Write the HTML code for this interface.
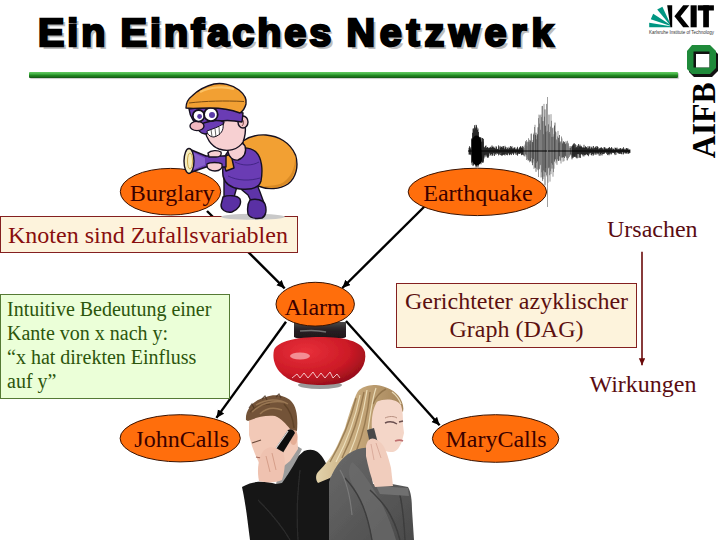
<!DOCTYPE html>
<html><head><meta charset="utf-8">
<style>
html,body{margin:0;padding:0;background:#fff;}
body{width:720px;height:540px;position:relative;overflow:hidden;font-family:"Liberation Serif",serif;}
.a{position:absolute;white-space:nowrap;}
#title{left:38px;top:10px;font-family:"Liberation Sans",sans-serif;font-weight:bold;font-size:39.5px;color:#000;letter-spacing:3px;word-spacing:-1.8px;-webkit-text-stroke:2.5px #000;text-shadow:3px 3px 0 #bdbdbd;}
.box{position:absolute;box-sizing:border-box;}
.red{background:#fdf3dc;border:1.5px solid #842020;}
.grn{background:#ebffd8;border:1.5px solid #557a35;}
.rt{color:#5c1010;font-size:24px;line-height:1;}
.gt{color:#2c560c;font-size:20px;line-height:23.87px;}
svg text{font-family:"Liberation Serif",serif;}
</style></head>
<body>
<div id="title" class="a">Ein Einfaches <span style="letter-spacing:4.8px">Netzwerk</span></div>
<div class="a" style="left:29px;top:71.5px;width:649px;height:6px;border-radius:1px;background:linear-gradient(#62c862,#48b448 30%,#218a21 55%,#1a6e1a 80%,#125012);box-shadow:1px 1px 1px #c8c8c8;"></div>

<!-- KIT logo -->
<svg class="a" style="left:0;top:0" width="720" height="170" viewBox="0 0 720 170">
  <g fill="#009682">
    <polygon points="670.5,27.3 649.2,27.3 649.2,22.8 670.5,26.2"/>
    <polygon points="670,25.8 650.8,19.2 653.2,13.8 670.6,24.9"/>
    <polygon points="669.6,24.6 657.2,9.4 662.4,6.8 670.4,24.1"/>
  </g>
  <g fill="#000">
    <polygon points="667.2,5.3 672.2,5.3 672.2,27.3 670.4,27.3"/>
    <polygon points="683.2,5.3 689.4,5.3 680.6,16.3 689.4,27.3 683.2,27.3 674.4,16.3"/>
    <rect x="690.6" y="5.3" width="6.1" height="22"/>
    <rect x="697.8" y="5.3" width="16.1" height="5.2"/>
    <rect x="703.2" y="5.3" width="5.7" height="22"/>
  </g>
  <text x="649" y="33.8" font-size="4.6" fill="#333" textLength="65" lengthAdjust="spacingAndGlyphs" style="font-family:'Liberation Sans',sans-serif">Karlsruhe Institute of Technology</text>
  <!-- AIFB logo -->
  <polygon points="694,48 712,48 718,54 718,71 712,77 694,77 689,72 689,54" fill="#111"/>
  <polygon points="692,45 710,45 716,51 716,68 710,74 692,74 687,69 687,51" fill="#1f8a3a"/>
  <rect x="693.5" y="51.5" width="16" height="16" fill="#111"/>
  <rect x="696" y="54" width="13.3" height="13.4" fill="#fff"/>
  <text transform="translate(714.5,158.3) rotate(-90)" font-size="33" font-weight="bold" fill="#000" textLength="76" lengthAdjust="spacingAndGlyphs">AIFB</text>
</svg>

<!-- arrows -->
<svg class="a" style="left:0;top:0" width="720" height="540" viewBox="0 0 720 540">
  <defs>
    <marker id="ah" markerWidth="10" markerHeight="10" refX="8" refY="4" orient="auto" markerUnits="userSpaceOnUse">
      <path d="M0,0.2 L8,4 L0,7.8 z" fill="#000"/>
    </marker>
    <marker id="ahr" markerWidth="10" markerHeight="10" refX="7" refY="3.2" orient="auto" markerUnits="userSpaceOnUse">
      <path d="M0,0 L7,3.2 L0,6.4 z" fill="#6a0a0a"/>
    </marker>
  </defs>
  <g stroke="#000" stroke-width="2.4" fill="none">
    <line x1="207" y1="211" x2="284.7" y2="288.3" marker-end="url(#ah)"/>
    <line x1="425" y1="206" x2="342.3" y2="288" marker-end="url(#ah)"/>
    <line x1="286" y1="321.8" x2="216.4" y2="417.9" marker-end="url(#ah)"/>
    <line x1="346" y1="321" x2="439.6" y2="425.3" marker-end="url(#ah)"/>
  </g>
  <line x1="642" y1="251.7" x2="642" y2="365.3" stroke="#6a0a0a" stroke-width="1.6" marker-end="url(#ahr)"/>
  <g fill="none"><path d="M469.0 147.8V154.6M469.5 146.2V154.3M470.0 147.6V154.7M470.5 148.6V154.4M471.0 147.2V155.3M471.5 139.2V162.7M472.0 138.0V164.8M472.5 132.8V162.3M473.0 128.6V166.1M473.5 128.4V165.2M474.0 130.2V163.1M474.5 125.2V163.6M475.0 127.2V164.6M475.5 128.3V165.7M476.0 124.8V167.3M476.5 125.3V166.4M477.0 127.4V166.3M477.5 129.9V164.5M478.0 128.5V167.1M478.5 132.0V165.6M479.0 136.8V163.3M479.5 138.2V162.4M480.0 137.0V163.3M480.5 137.5V163.0M481.0 137.5V164.3M481.5 141.7V161.9M482.0 138.2V162.6M482.5 138.0V162.3M483.0 141.6V163.0M483.5 138.8V161.7M484.0 146.7V158.5M484.5 147.3V155.4M485.0 148.2V157.2M485.5 146.0V155.5M486.0 145.4V153.9M486.5 147.8V155.6M487.0 147.7V157.2M487.5 147.0V157.8M488.0 147.4V156.4M488.5 148.2V157.6M489.0 148.1V155.8M489.5 147.9V153.3M490.0 147.2V153.6M490.5 147.4V154.9M491.0 146.6V155.8M491.5 148.0V153.9M492.0 145.4V154.3M492.5 147.0V155.7M493.0 146.4V155.4M493.5 147.6V153.3M494.0 146.8V153.2M494.5 148.1V156.0M495.0 148.1V153.5M495.5 148.8V153.8M496.0 146.3V154.9M496.5 146.7V153.2M497.0 148.9V153.6M497.5 149.1V153.4M498.0 148.8V153.9M498.5 145.4V155.4M499.0 147.2V153.3M499.5 149.6V154.6M500.0 145.9V152.9M500.5 147.7V155.1M501.0 146.6V152.7M501.5 147.0V155.5M502.0 146.8V155.5M502.5 147.8V155.4M503.0 146.0V154.4M503.5 146.2V154.8M504.0 148.1V154.6M504.5 149.1V154.7M505.0 145.8V155.6M505.5 147.4V154.2M506.0 147.0V152.8M506.5 149.1V154.8M507.0 148.7V154.7M507.5 147.6V155.3M508.0 149.5V153.2M508.5 148.6V153.3M509.0 146.8V154.4M509.5 148.0V155.2M510.0 148.5V154.5M510.5 146.0V154.2M511.0 148.4V153.1M511.5 146.9V155.1M512.0 146.2V153.6M512.5 148.5V153.0M513.0 148.5V154.0M513.5 148.5V155.0M514.0 147.5V153.2M514.5 147.7V152.4M515.0 147.4V153.7M515.5 149.2V153.2M516.0 149.4V154.9M516.5 149.2V152.5M517.0 147.9V154.6M517.5 146.8V155.7M518.0 148.7V154.2M518.5 149.6V153.5M519.0 148.7V153.6M519.5 147.6V153.9M520.0 147.0V153.9M520.5 146.2V153.1M521.0 146.6V153.3M521.5 147.7V155.2M522.0 147.9V154.9M522.5 146.1V154.3M523.0 148.7V154.9M572.0 146.3V159.3M572.5 145.5V157.8M573.0 144.6V155.7M573.5 143.6V157.6M574.0 145.4V156.6M574.5 143.3V157.0M575.0 148.3V156.0M575.5 144.3V157.3M576.0 147.4V154.6M576.5 147.2V157.7M577.0 145.2V158.5M577.5 146.2V154.1M578.0 148.2V157.9M578.5 144.0V154.2M579.0 145.6V153.7M579.5 146.5V157.7M580.0 144.6V154.8M580.5 146.5V157.9M581.0 145.8V153.8M581.5 146.4V154.0M582.0 147.1V154.9M582.5 148.0V154.6M583.0 147.1V156.3M583.5 147.7V154.5M584.0 144.8V156.4M584.5 148.0V155.1M585.0 147.1V154.5M585.5 146.2V155.2M586.0 147.1V153.8M586.5 147.2V154.0M587.0 147.8V155.1M587.5 148.6V155.2M588.0 146.1V154.7M588.5 147.7V156.2M589.0 149.0V152.9M589.5 146.4V153.6M590.0 146.5V154.7M590.5 148.8V153.0M591.0 148.3V152.7M591.5 147.3V155.0M592.0 146.5V155.7M592.5 148.3V153.9M593.0 148.6V154.1M593.5 146.0V155.5M594.0 149.2V153.8M594.5 147.6V152.8M595.0 148.0V154.8M595.5 147.1V153.4M596.0 146.2V154.6M596.5 148.1V152.9M597.0 146.1V154.4M597.5 146.6V153.3M598.0 147.0V153.5M598.5 149.2V153.6M599.0 148.3V155.5M599.5 148.4V152.7M600.0 148.7V155.9M600.5 147.9V154.1M601.0 147.5V154.7M601.5 147.4V153.1M602.0 148.4V155.5M602.5 148.4V154.2M603.0 148.6V152.4M603.5 149.5V154.1M604.0 147.2V153.7M604.5 147.4V153.6M605.0 147.4V152.5M605.5 148.8V152.5M606.0 148.3V152.7M606.5 149.0V153.8M607.0 148.3V152.3M607.5 149.1V155.1M608.0 148.4V153.5M608.5 147.8V154.4M609.0 148.2V155.3M609.5 147.0V153.7M610.0 148.4V154.4M610.5 148.4V153.4M611.0 148.5V152.7M611.5 147.1V154.4M612.0 147.8V153.1M612.5 149.5V152.6M613.0 148.6V153.1M613.5 148.8V152.9M614.0 149.3V152.9M614.5 149.8V153.9M615.0 147.5V155.1M615.5 148.0V152.7M616.0 148.1V154.8M616.5 148.7V152.2M617.0 147.5V152.3M617.5 149.4V152.7M618.0 148.6V153.3M618.5 149.1V153.4M619.0 150.1V153.4M619.5 148.9V153.9M620.0 148.1V153.1M620.5 148.2V153.8M621.0 148.5V152.6M621.5 149.5V154.1M622.0 148.9V154.3M622.5 148.5V152.1M623.0 148.9V152.4M623.5 147.2V154.4M624.0 148.9V153.5M624.5 149.7V152.6M625.0 148.6V152.4M625.5 149.7V153.1M626.0 148.7V154.0M626.5 148.0V153.0M627.0 148.3V153.3M627.5 148.8V152.2M628.0 148.3V153.9M628.5 149.7V153.5M629.0 149.6V153.5M629.5 149.7V153.0M630.0 149.5V152.9" stroke="#111" stroke-width="0.75"/><path d="M524.0 145.8V156.2M524.5 148.2V155.8M525.0 144.5V156.6M525.5 141.1V154.1M526.5 140.0V160.0M527.0 145.9V157.2M527.5 141.6V159.3M528.0 142.5V160.7M528.5 138.2V160.2M529.5 139.8V162.3M530.0 144.4V161.0M531.0 133.8V161.5M531.5 133.6V157.9M532.0 141.8V162.8M533.0 139.9V162.5M534.0 132.7V168.9M534.5 127.0V167.7M535.0 124.8V161.0M536.5 139.3V162.8M537.0 135.6V169.0M538.5 118.1V177.0M539.0 114.6V168.2M539.5 123.6V169.2M540.0 115.3V165.3M540.5 129.8V164.8M541.0 114.5V177.5M541.5 117.1V172.3M542.0 106.1V177.2M542.5 105.9V181.0M543.5 134.2V170.5M544.0 103.9V176.6M544.5 116.7V171.7M546.0 131.7V168.1M546.5 103.9V175.2M547.0 131.8V176.5M548.0 133.1V182.7M548.5 124.3V168.3M549.5 132.0V175.2M550.0 134.1V181.6M550.5 126.6V171.3M551.0 114.2V174.2M551.5 120.8V163.2M552.5 128.2V164.7M553.0 127.5V176.7M553.5 136.6V172.1M554.0 134.2V168.7M555.5 131.4V159.2M556.0 132.3V163.4M556.5 139.4V161.5M557.0 140.3V164.9M557.5 136.4V159.1M558.0 130.9V160.4M559.0 142.7V160.3M560.0 141.3V160.7M560.5 142.3V160.4M561.0 141.4V163.5M561.5 136.5V157.4M562.0 138.5V157.8M563.0 141.9V161.7M564.0 142.5V161.1M565.0 142.7V155.3M566.0 141.1V156.6M566.5 142.6V157.8M567.0 144.3V160.4M567.5 140.8V160.3M568.0 142.7V158.6M568.5 143.5V158.1M569.0 146.3V154.9M569.5 148.1V156.9M570.0 146.2V155.8M571.5 147.0V157.5" stroke="#6a6a6a" stroke-width="0.7"/><path d="M523.5 147.1V155.2M526.0 142.3V155.2M529.0 141.7V160.3M530.5 140.5V161.3M532.5 142.1V165.2M533.5 134.4V159.2M535.5 134.9V167.8M536.0 132.7V171.8M537.5 134.2V161.4M538.0 127.3V170.2M543.0 121.1V179.2M545.0 109.4V185.4M545.5 125.7V172.3M547.5 130.8V173.7M549.0 114.6V167.5M552.0 136.9V168.6M554.5 125.5V161.6M555.0 122.6V159.5M558.5 137.8V161.0M559.5 135.0V156.3M562.5 143.4V157.4M563.5 141.2V157.1M564.5 141.9V158.0M565.5 144.1V156.3M570.5 147.9V154.3M571.0 146.1V155.1" stroke="#333" stroke-width="0.7"/><path d="M468 151H630" stroke="#000" stroke-width="1"/><path d="M547.5 97V207" stroke="#888" stroke-width="0.8"/><path d="M472,140 C474,134 479,134 481,140 L482,160 C480,167 474,167 472,160 Z" fill="#000"/></g>
  <defs>
  <linearGradient id="topG" x1="0" y1="0" x2="0" y2="1">
    <stop offset="0" stop-color="#4a4a4a"/><stop offset="0.4" stop-color="#2a2226"/><stop offset="1" stop-color="#1c1416"/>
  </linearGradient>
  <radialGradient id="domeG" cx="0.35" cy="0.3" r="0.8">
    <stop offset="0" stop-color="#e8303a"/><stop offset="0.6" stop-color="#cc1a26"/><stop offset="1" stop-color="#8a0c18"/>
  </radialGradient>
  <filter id="soft2" x="-5%" y="-5%" width="110%" height="110%"><feGaussianBlur stdDeviation="0.5"/></filter>
</defs>
<g filter="url(#soft2)">
  <ellipse cx="320" cy="385" rx="22" ry="4" fill="#9a9a9a"/>
  <path d="M294,322 L346,322 L346,337 C340,341 300,341 294,337 Z" fill="url(#topG)"/>
  <path d="M300,331 C310,330 318,330 326,332" stroke="#707070" stroke-width="1.5" fill="none"/>
  <path d="M274,350 C278,341 296,337 320,337 C344,337 362,341 365,352 C367,364 360,376 344,382 C334,386 308,386 296,382 C280,377 271,364 274,350 Z" fill="url(#domeG)"/>
  <ellipse cx="300" cy="356" rx="10" ry="3.5" fill="#f6a0a4" opacity="0.85"/>
  <path d="M292,378 L297,374 L300,378 L304,373 L308,378 L313,372 L317,378 L321,373 L325,378 L330,372 L333,378 L337,374 L340,378" stroke="#f6d6d6" stroke-width="0.9" fill="none"/>
</g>

  <defs>
  <filter id="soft" x="-5%" y="-5%" width="110%" height="110%"><feGaussianBlur stdDeviation="0.7"/></filter>
  <linearGradient id="hairW" x1="0" y1="0" x2="1" y2="0">
    <stop offset="0" stop-color="#e2d2aa"/><stop offset="0.5" stop-color="#c4a678"/><stop offset="1" stop-color="#a4845a"/>
  </linearGradient>
  <linearGradient id="jacketW" x1="0" y1="0" x2="1" y2="1">
    <stop offset="0" stop-color="#6a6a6a"/><stop offset="1" stop-color="#4a4a4a"/>
  </linearGradient>
</defs>
<g filter="url(#soft)">
  <!-- man jacket -->
  <path d="M242,487 C250,482 262,480 276,484 L285,476 L294,460 L304,451 C312,448 318,450 323,458 C328,466 331,474 331,482 L332,540 L250,540 C248,525 246,505 242,487 Z" fill="#151515"/>
  <path d="M258,500 C270,512 282,526 290,540 M300,470 C298,490 296,510 298,540" fill="none" stroke="#2c2c2c" stroke-width="1.3"/>
  <!-- man collar -->
  <path d="M284,452 L297,446 L302,449 C297,460 290,472 282,483 L276,484 Z" fill="#9c9c9c"/>
  <!-- man face -->
  <path d="M249,421 C256,411 272,408 285,413 L292,428 L297,432 L298,449 L290,461 L279,470 L266,470 L259,463 L255,454 L252,446 L249,435 Z" fill="#f2c9b7"/>
  <path d="M252,443 L261,440" stroke="#6a4a3a" stroke-width="1.3" fill="none"/>
  <path d="M256,457 C259,458 262,458 264,457" stroke="#a86a5a" stroke-width="1.2" fill="none"/>
  <!-- man ear -->
  <ellipse cx="293.5" cy="437" rx="4" ry="8" fill="#e5ae96"/>
  <!-- man hair -->
  <path d="M246,420 C245,410 253,400 266,397 C274,394 285,395 291,401 C297,407 298,418 297,431 L290,429 C286,424 281,418 275,416 C266,415 257,417 248,421 Z" fill="#735337"/>
  <path d="M284,404 C290,410 293,418 294,428 M250,412 C256,406 262,404 270,404" fill="none" stroke="#5a3e26" stroke-width="1.5" opacity="0.8"/>
  <path d="M252,412 C260,404 272,400 284,402 M256,405 C266,399 278,398 288,404 M260,414 C266,408 274,407 282,410" fill="none" stroke="#a3805a" stroke-width="1.4" opacity="0.8"/>
  <path d="M249,408 L252,404 L254,408 M262,399 L265,396 L267,400 M276,397 L279,394 L281,398" fill="none" stroke="#4a3220" stroke-width="1.2" opacity="0.8"/>
  <!-- man phone -->
  <path d="M273,452 L288,430 C291,428 294,430 295,433 L281,456 Z" fill="#111"/>
  <path d="M274,451 L288,431" stroke="#d8d8d8" stroke-width="1.3"/>
  <!-- man hand -->
  <path d="M261,455 C264,448 270,446 276,448 L283,452 C286,460 285,470 282,480 C276,483 266,483 259,481 C257,472 258,462 261,455 Z" fill="#efc2b0"/>
  <path d="M266,456 L270,472 M272,453 L276,470" stroke="#d29a84" stroke-width="0.9" fill="none"/>
  <!-- woman hair (behind) -->
  <path d="M359,390 C364,386 370,385 376,385 C386,386 396,391 400,398 C403,403 404,408 403,412 L392,402 C386,400 380,401 377,402 C374,412 372,425 371,437 L368,450 C362,452 352,455 345,459 C338,465 334,472 330,478 L318,483 C315,479 316,474 318,472 C326,464 332,456 336,448 C340,440 343,432 345,428 C348,418 351,408 353,403 C355,397 357,392 359,390 Z" fill="url(#hairW)"/>
  <path d="M356,398 C351,418 344,438 330,462 M364,392 C360,412 354,434 342,458 M370,392 C368,412 364,432 356,452 M386,389 C380,392 376,396 373,404" fill="none" stroke="#8a6c44" stroke-width="1.4" opacity="0.75"/>
  <path d="M360,395 C356,415 349,437 336,462 M367,390 C364,410 359,432 349,455 M376,388 C372,400 370,415 368,430 M392,392 C396,395 399,399 401,404" fill="none" stroke="#f2e6c4" stroke-width="1.2" opacity="0.85"/>
  <!-- woman face -->
  <path d="M377,402 C385,398 396,399 401,405 C403,411 403,418 403,425 L404,433 L402,441 C400,447 397,451 393,452 C386,452 381,450 379,448 C375,443 373,436 372,430 C371,418 373,408 377,402 Z" fill="#f4d6c8"/>
  <path d="M385,423 C389,421 394,422 397,424 M399,422 L403,421" stroke="#6a5050" stroke-width="1.4" fill="none"/>
  <path d="M385,418 C389,416 394,416 397,418" stroke="#b89080" stroke-width="1" fill="none"/>
  <path d="M395,441 C398,440 401,440 403,441" stroke="#c07070" stroke-width="1.8" fill="none"/>
  <!-- woman jacket -->
  <path d="M329,482 C333,470 340,460 348,454 C356,449 363,447 368,448 L373,484 L392,484 L408,487 C411,492 412,500 412,510 L414,540 L329,540 Z" fill="url(#jacketW)"/>
  <path d="M352,462 C362,470 372,486 380,500 C386,512 392,526 396,540 L372,540 C368,520 362,500 352,484 C348,476 348,468 352,462 Z" fill="#6c6c6c" opacity="0.7"/>
  <path d="M345,478 C356,490 366,505 372,540 M370,490 C380,500 392,510 400,540 M398,488 C402,500 404,520 405,540" fill="none" stroke="#3c3c3c" stroke-width="1.4"/>
  <path d="M376,486 L408,488 L409,496 L380,494 Z" fill="#707070"/>
  <path d="M340,470 C346,480 350,495 352,515" fill="none" stroke="#7a7a7a" stroke-width="1.2"/>
  <!-- woman phone + hand -->
  <path d="M367,430 L374,428 L380,451 L372,453 Z" fill="#4a4a4a"/>
  <path d="M366,446 C367,440 371,437 375,439 L380,442 C385,446 388,456 391,468 L393,486 L375,487 C371,478 368,466 366,456 Z" fill="#f1cdbd"/>
  <path d="M376,443 L381,458 M371,444 L374,460" stroke="#d8a898" stroke-width="0.9" fill="none"/>

</g>

</svg>

<div class="box red" style="left:0;top:216px;width:298px;height:37px;"></div>
<div class="a rt" style="left:8px;top:222.8px;color:#880e0e;">Knoten sind Zufallsvariablen</div>

<div class="box grn" style="left:0;top:294px;width:229.5px;height:105px;"></div>
<div class="a gt" style="left:7px;top:298.3px;">Intuitive Bedeutung einer<br>Kante von x nach y:<br>“x hat direkten Einfluss<br>auf y”</div>

<div class="box red" style="left:396px;top:282.5px;width:241px;height:65px;"></div>
<div class="a rt" style="left:396px;width:241px;top:286.5px;line-height:28.5px;text-align:center;">Gerichteter azyklischer<br>Graph (DAG)</div>

<div class="a rt" style="left:607px;top:216.9px;color:#5a0c12;">Ursachen</div>
<div class="a rt" style="left:589.5px;top:372.2px;color:#5a0c12;">Wirkungen</div>

<!-- ellipses -->
<svg class="a" style="left:0;top:0" width="720" height="540" viewBox="0 0 720 540">
  <g fill="#ff6e0c" stroke="#3a1200" stroke-width="1">
    <ellipse cx="170.5" cy="191.7" rx="50.2" ry="23.3"/>
    <ellipse cx="477.4" cy="191.9" rx="69.2" ry="23.7"/>
    <ellipse cx="315.2" cy="304.2" rx="39.2" ry="21.9"/>
    <ellipse cx="180.2" cy="438.3" rx="60.1" ry="23.6"/>
    <ellipse cx="495.6" cy="438.5" rx="63.2" ry="23.8"/>
  </g>
  <g fill="#3a0000" font-size="24">
    <text x="129.7" y="200.8">Burglary</text>
    <text x="423.3" y="201.1">Earthquake</text>
    <text x="284.4" y="314.9">Alarm</text>
    <text x="134.3" y="446.7">JohnCalls</text>
    <text x="445.4" y="446.7">MaryCalls</text>
  </g>
  <g stroke="#161020" stroke-width="1.4" stroke-linejoin="round">
  <!-- shadow -->
  <ellipse cx="253" cy="216.8" rx="32" ry="3" fill="#c9c9c9" stroke="none"/>
  <!-- sack -->
  <path d="M243,141 C250,136 258,134.5 266,135 C278,136 290,142 295.5,155 C299,166 296,178 288,184 C280,189.5 268,190 258,186 C250,182 244,172 241,162 Z" fill="#f2a033"/>
  <path d="M262,186 C274,190 286,187 292,178 C296,170 297,162 295,155 C296,168 290,180 280,184 C272,186 266,186 262,186 Z" fill="#d98a25" stroke="none"/>
  <!-- legs -->
  <path d="M224,178 L238,182 L236,190 L233,201 L224,201 L224,190 Z" fill="#5e34a8"/>
  <path d="M240,182 L256,182 L260,192 L264,203 L253,205 L248,195 L242,190 Z" fill="#5e34a8"/>
  <!-- feet -->
  <path d="M223,197 C228,195 237,195 240,199 C242,204 238,210 232,212 C226,213 221,210 221,205 Z" fill="#5a30a4"/>
  <path d="M250,200 C256,198 263,200 265,204 C267,210 266,216 262,218 C256,219 250,218 248,214 C247,208 248,203 250,200 Z" fill="#5a30a4"/>
  <!-- torso -->
  <path d="M229,150 C238,146 250,147 256,152 C262,158 263,170 261,181 C259,188 250,190 240,189 C231,188 225,184 223,176 C222,166 224,156 229,150 Z" fill="#6a3cb4"/>
  <path d="M235,162 C242,166 252,166 259,162 M228,176 C238,181 250,181 260,178" fill="none" stroke="#3e2280" stroke-width="0.9"/>
  <!-- orange cuff -->
  <path d="M222,157 L231,154 L234,168 L226,171 Z" fill="#f0a030"/>
  <!-- hand on sack / neck -->
  <path d="M229,143 C234,140 242,141 245,146 C247,152 244,158 238,160 C233,161 229,157 228,152 Z" fill="#f7d0d2"/>
  <!-- flashlight -->
  <path d="M189,149 L206,156 L226,156 L226,167 L206,167 L189,173 Z" fill="#6a3cb4"/>
  <path d="M192,152 L205,158 L205,165 L192,170 Z" fill="#8760cc" stroke="none"/>
  <ellipse cx="189" cy="161" rx="5" ry="12.5" fill="#f6edbc"/>
  <ellipse cx="190" cy="161" rx="2.5" ry="8" fill="none" stroke="#c8a040" stroke-width="0.9"/>
  <!-- hands on flashlight -->
  <path d="M208,153 C211,150 218,150 221,152 C222,155 220,157 216,157 L209,157 Z" fill="#f7d0d2"/>
  <path d="M207,164 C210,162 219,162 222,164 C223,168 220,171 215,171 C211,171 207,169 207,166 Z" fill="#f7d0d2"/>
  <!-- neck/face -->
  <path d="M207,118 L240,112 C246,118 247,132 243,142 C238,150 228,152 219,149 C211,146 206,138 205,130 Z" fill="#f7d0d2"/>
  <!-- ear -->
  <ellipse cx="243" cy="122" rx="5" ry="6" fill="#f3c4c8"/>
  <path d="M242,119 C244,121 244,124 242,126" fill="none" stroke="#5a2020" stroke-width="0.8"/>
  <!-- mask band -->
  <path d="M189,109 C205,106 225,107 243,113 L242,122 C232,120 222,120 214,122 L200,126 C195,124 190,118 189,109 Z" fill="#6a3cb4"/>
  <!-- mustache -->
  <path d="M198,126 C206,121 217,119 224,122 C223,128 214,133 205,134 C200,133 197,130 198,126 Z" fill="#6a3cb4"/>
  <!-- teeth -->
  <path d="M207,131 C212,129 219,127 223,124 C224,130 221,135 214,137 C210,137 207,134 207,131 Z" fill="#fff" stroke-width="1"/>
  <path d="M211,129.5 L212,136.5 M215,128.5 L216,137 M219,127 L219.5,135" fill="none" stroke="#222" stroke-width="0.7"/>
  <!-- nose -->
  <ellipse cx="197" cy="126" rx="7" ry="4.6" fill="#f3b8c0"/>
  <!-- eyes -->
  <circle cx="198.6" cy="115.8" r="5.8" fill="#fff" stroke-width="1.8"/>
  <circle cx="210.9" cy="114.4" r="6.8" fill="#fff" stroke-width="1.8"/>
  <circle cx="199.6" cy="116.5" r="2.4" fill="#5a3aa8" stroke="none"/>
  <circle cx="212" cy="115" r="3" fill="#5a3aa8" stroke="none"/>
  <!-- cap -->
  <path d="M186,108 C186,103 188,99 192,96 C198,90 206,86 214,84 C222,82.5 232,84.5 239,90 C244,94 247,99 246,104 C245,108 243,111 240,113 C232,110 222,108 210,108 C200,108 192,109 186,108 Z" fill="#f2a033"/>
  <path d="M189,103 C205,101 225,100.5 244,101.5" fill="none" stroke="#7a4a10" stroke-width="1"/>
  <path d="M200,92 C210,87 224,86 234,89" fill="none" stroke="#fbc265" stroke-width="2.2"/>
</g>

</svg>

</body></html>
